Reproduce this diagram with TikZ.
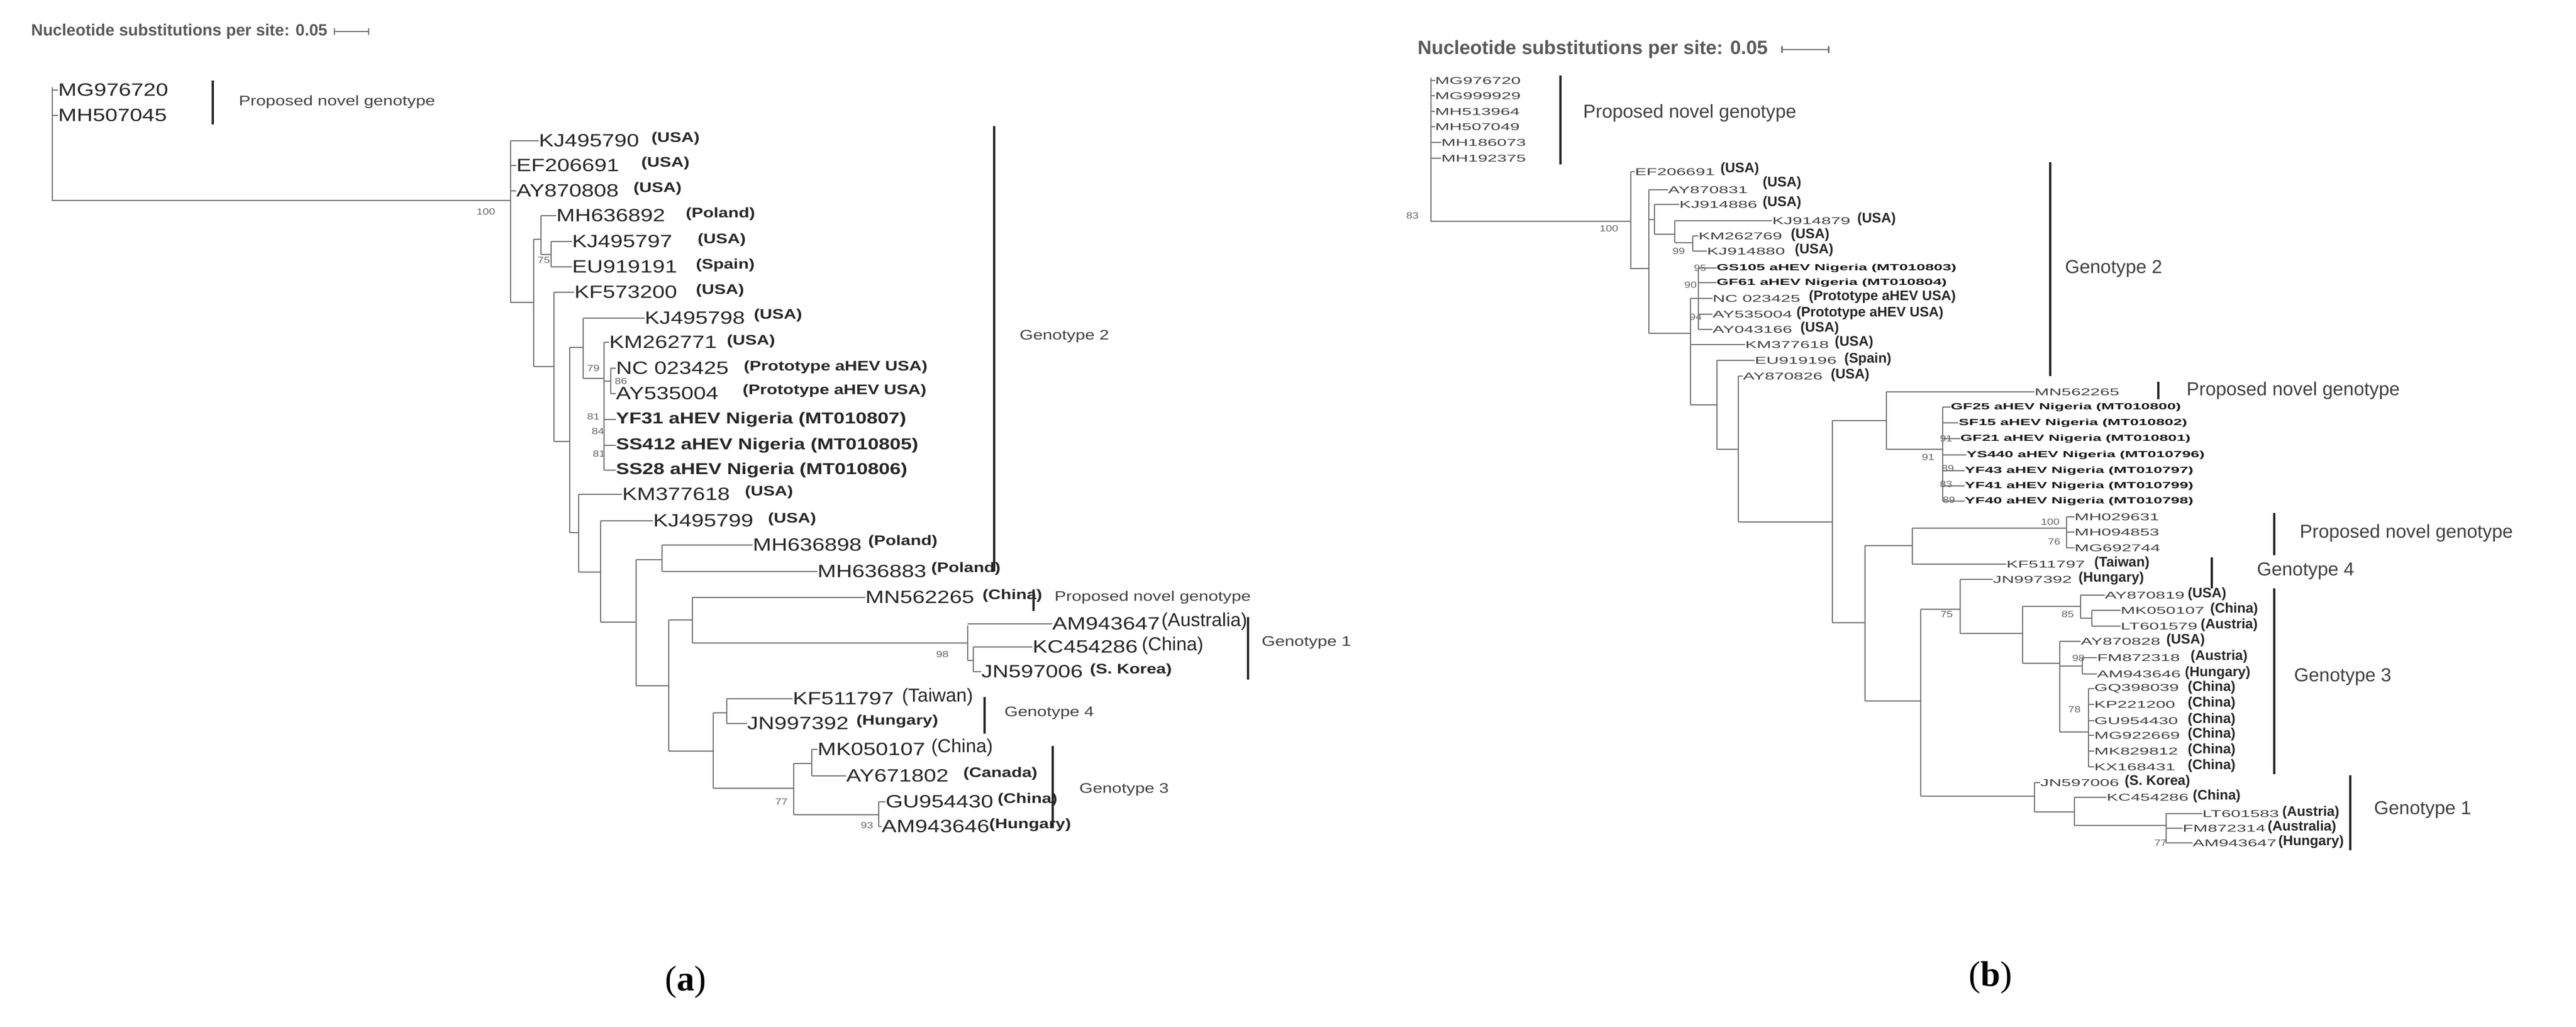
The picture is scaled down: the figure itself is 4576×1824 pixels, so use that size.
\documentclass[tikz,border=0pt]{standalone}
\usepackage{fontspec}
\setmainfont{Liberation Sans}
\newfontfamily\fa[FakeStretch=1.25]{Liberation Sans}
\newfontfamily\fb[FakeStretch=1.75]{Liberation Sans}
\newfontfamily\capf{Liberation Serif}
\newcommand\lf[6][lfa]{\node[#1] (#2) at (#4,#5) {#6}; \draw[br] (#3,#5) -- (#2.west);}
\newcommand\ct[5][cta]{\node[#1] (#2) at (#3,#4) {#5};}
\newcommand\bs[5][bsa]{\node[#1] (#2) at (#3,#4) {#5};}
\tikzset{
 br/.style={draw=black!55,line width=1.4pt},
 bar/.style={draw=black!85,line width=2pt},
 lfa/.style={anchor=west,inner sep=0pt,font=\fa\fontsize{18}{18}\selectfont,text=black!85},
 lfab/.style={lfa,font=\fa\fontsize{16}{16}\selectfont\bfseries},
 cta/.style={anchor=west,inner sep=0pt,font=\fa\fontsize{14}{14}\selectfont\bfseries,text=black!85},
 ctab/.style={cta,font=\fontsize{19}{19}\selectfont},
 bsa/.style={inner sep=0pt,font=\fa\fontsize{9}{9}\selectfont,text=black!60},
 lfb/.style={anchor=west,inner sep=0pt,font=\fb\fontsize{10}{10}\selectfont,text=black!75},
 lfbb/.style={lfb,font=\fb\fontsize{9}{9}\selectfont\bfseries,text=black!90},
 ctb/.style={anchor=west,inner sep=0pt,font=\fontsize{14}{14}\selectfont\bfseries,text=black!85},
 gen/.style={anchor=west,inner sep=0pt,font=\fa\fontsize{14}{14}\selectfont,text=black!75},
 genb/.style={anchor=west,inner sep=0pt,font=\fontsize{19}{19}\selectfont,text=black!75},
 ttl/.style={anchor=west,inner sep=0pt,font=\fontsize{16.5}{16.5}\selectfont\bfseries,text=black!65},
 ttlb/.style={ttl,font=\fontsize{19.5}{19.5}\selectfont\bfseries},
}
\begin{document}
\begin{tikzpicture}[x=0.02cm,y=-0.02cm]
\useasboundingbox (0,0) rectangle (4576,1824);
% ================= panel (a) =================
\node[ttl] (ta) at (55,56) {Nucleotide substitutions per site: 0.05};
\coordinate (sa1) at ([xshift=12*0.02cm]ta.east);
\coordinate (sa2) at ([xshift=73*0.02cm]ta.east);
\draw[br] (sa1) -- (sa2) ([yshift=6*0.02cm]sa1) -- ([yshift=-6*0.02cm]sa1) ([yshift=6*0.02cm]sa2) -- ([yshift=-6*0.02cm]sa2);
\draw[br] (93,155) -- (93,356) -- (907,356);
\lf{aMG}{93}{103}{160}{MG976720}
\lf{aMH}{93}{103}{205}{MH507045}
\draw[bar] (378,143) -- (378,221);
\node[gen] (apng) at (424,181) {Proposed novel genotype};
\bs{a100}{863}{376}{100}
\draw[br] (907,250) -- (907,537) -- (948,537);
\lf{a1}{907}{957}{250}{KJ495790}\ct{c1}{1157}{246}{(USA)}
\lf{a2}{907}{917}{294}{EF206691}\ct{c2}{1139}{290}{(USA)}
\lf{a3}{907}{917}{339}{AY870808}\ct{c3}{1125}{335}{(USA)}
\draw[br] (948,425) -- (948,651);
\draw[br] (948,425) -- (961,425) (961,383) -- (961,452) (961,452) -- (979,452) (979,429) -- (979,474);
\lf{a4}{961}{988}{383}{MH636892}\ct{c4}{1218}{380}{(Poland)}
\lf{a5}{979}{1016}{429}{KJ495797}\ct{c5}{1239}{426}{(USA)}
\lf{a6}{979}{1016}{474}{EU919191}\ct{c6}{1236}{471}{(Spain)}
\bs{a75}{966}{462}{75}
\draw[br] (948,651) -- (984,651) (984,519) -- (984,784) (984,784) -- (1012,784) (1012,617) -- (1012,946);
\lf{a7}{984}{1020}{519}{KF573200}\ct{c7}{1236}{516}{(USA)}
\draw[br] (1012,617) -- (1036,617) (1036,565) -- (1036,672) (1036,672) -- (1073,672) (1073,608) -- (1073,835) (1073,677) -- (1085,677) (1085,654) -- (1085,699);
\lf{a8}{1036}{1145}{565}{KJ495798}\ct{c8}{1339}{560}{(USA)}
\lf{a9}{1073}{1082}{608}{KM262771}\ct{c9}{1291}{606}{(USA)}
\lf{a10}{1085}{1094}{654}{NC 023425}\ct{c10}{1321}{652}{(Prototype aHEV USA)}
\lf{a11}{1085}{1094}{699}{AY535004}\ct{c11}{1319}{694}{(Prototype aHEV USA)}
\lf[lfab]{a12}{1073}{1094}{745}{YF31 aHEV Nigeria (MT010807)}
\lf[lfab]{a13}{1073}{1094}{791}{SS412 aHEV Nigeria (MT010805)}
\lf[lfab]{a14}{1073}{1094}{835}{SS28 aHEV Nigeria (MT010806)}
\bs{a79}{1054}{654}{79}\bs{a86}{1103}{677}{86}\bs{a81}{1054}{740}{81}\bs{a84}{1062}{766}{84}\bs{a81b}{1064}{806}{81}
\draw[br] (1012,946) -- (1028,946) (1028,878) -- (1028,1016) (1028,1016) -- (1067,1016) (1067,925) -- (1067,1105);
\lf{a15}{1028}{1105}{878}{KM377618}\ct{c15}{1323}{874}{(USA)}
\lf{a16}{1067}{1160}{925}{KJ495799}\ct{c16}{1364}{922}{(USA)}
\draw[br] (1067,1105) -- (1130,1105) (1130,994) -- (1130,1218) (1130,994) -- (1176,994) (1176,968) -- (1176,1015);
\lf{a17}{1176}{1337}{968}{MH636898}\ct{c17}{1542}{962}{(Poland)}
\lf{a18}{1176}{1452}{1015}{MH636883}\ct{c18}{1654}{1010}{(Poland)}
\draw[br] (1130,1218) -- (1188,1218) (1188,1101) -- (1188,1334) (1188,1101) -- (1230,1101) (1230,1061) -- (1230,1142) (1230,1142) -- (1719,1142) (1719,1111) -- (1719,1173) (1719,1173) -- (1729,1173) (1729,1149) -- (1729,1193);
\lf{a19}{1230}{1537}{1061}{MN562265}\ct{c19}{1745}{1058}{(China)}
\draw[bar] (1836,1047) -- (1836,1085);
\node[gen] (apng2) at (1873,1061) {Proposed novel genotype};
\lf{a20}{1719}{1869}{1108}{AM943647}\ct[ctab]{c20}{2063}{1104}{(Australia)}
\lf{a21}{1729}{1834}{1149}{KC454286}\ct[ctab]{c21}{2028}{1147}{(China)}
\lf{a22}{1729}{1743}{1193}{JN597006}\ct{c22}{1936}{1190}{(S. Korea)}
\bs{a98}{1674}{1162}{98}
\draw[bar] (2217,1096) -- (2217,1207);
\node[gen] (ag1) at (2241,1141) {Genotype 1};
\draw[br] (1188,1334) -- (1267,1334) (1267,1266) -- (1267,1400) (1267,1266) -- (1291,1266) (1291,1241) -- (1291,1285);
\lf{a23}{1291}{1408}{1241}{KF511797}\ct[ctab]{c23}{1602}{1238}{(Taiwan)}
\lf{a24}{1291}{1327}{1285}{JN997392}\ct{c24}{1521}{1281}{(Hungary)}
\draw[bar] (1749,1238) -- (1749,1303);
\node[gen] (ag4) at (1784,1266) {Genotype 4};
\draw[br] (1267,1400) -- (1410,1400) (1410,1356) -- (1410,1447) (1410,1356) -- (1442,1356) (1442,1331) -- (1442,1378) (1410,1447) -- (1561,1447) (1561,1424) -- (1561,1468);
\lf{a25}{1442}{1452}{1331}{MK050107}\ct[ctab]{c25}{1654}{1328}{(China)}
\lf{a26}{1442}{1503}{1378}{AY671802}\ct{c26}{1711}{1374}{(Canada)}
\lf{a27}{1561}{1573}{1424}{GU954430}\ct{c27}{1772}{1420}{(China)}
\lf{a28}{1561}{1566}{1468}{AM943646}\ct{c28}{1757}{1465}{(Hungary)}
\bs{a77}{1388}{1424}{77}\bs{a93}{1540}{1466}{93}
\draw[bar] (1870,1325) -- (1870,1471);
\node[gen] (ag3) at (1917,1402) {Genotype 3};
\draw[bar] (1766,224) -- (1766,1015);
\node[gen] (ag2) at (1811,597) {Genotype 2};
\node[font=\capf\fontsize{36}{36}\selectfont] (capa) at (1218,1744) {(\textbf{a})};
% ================= panel (b) =================
\node[ttlb] (tb) at (2518,88) {Nucleotide substitutions per site: 0.05};
\coordinate (sb1) at ([xshift=25*0.02cm]tb.east);
\coordinate (sb2) at ([xshift=108*0.02cm]tb.east);
\draw[br] (sb1) -- (sb2) ([yshift=6*0.02cm]sb1) -- ([yshift=-6*0.02cm]sb1) ([yshift=6*0.02cm]sb2) -- ([yshift=-6*0.02cm]sb2);
\draw[br] (2542,138) -- (2542,393) -- (2897,393);
\lf[lfb]{b1}{2542}{2549}{143}{MG976720}
\lf[lfb]{b2}{2542}{2549}{170}{MG999929}
\lf[lfb]{b3}{2542}{2549}{198}{MH513964}
\lf[lfb]{b4}{2542}{2549}{225}{MH507049}
\lf[lfb]{b5}{2542}{2560}{253}{MH186073}
\lf[lfb]{b6}{2542}{2560}{281}{MH192375}
\draw[bar] (2772,134) -- (2772,292);
\node[genb] (bpng) at (2812,201) {Proposed novel genotype};
\bs[bsa]{b83}{2509}{383}{83}\bs[bsa]{b100}{2858}{406}{100}
\draw[br] (2897,305) -- (2897,477) -- (2929,477) (2929,337) -- (2929,592);
\lf[lfb]{b7}{2897}{2904}{305}{EF206691}\ct[ctb]{d7}{3056}{300}{(USA)}
\lf[lfb]{b8}{2929}{2963}{337}{AY870831}\ct[ctb]{d8}{3131}{325}{(USA)}
\draw[br] (2929,390) -- (2939,390) (2939,363) -- (2939,416) (2939,416) -- (2975,416) (2975,392) -- (2975,431) (2975,431) -- (3007,431) (3007,419) -- (3007,446);
\lf[lfb]{b9}{2939}{2983}{363}{KJ914886}\ct[ctb]{d9}{3131}{360}{(USA)}
\lf[lfb]{b10}{2975}{3148}{392}{KJ914879}\ct[ctb]{d10}{3299}{389}{(USA)}
\lf[lfb]{b11}{3007}{3017}{419}{KM262769}\ct[ctb]{d11}{3181}{417}{(USA)}
\lf[lfb]{b12}{3007}{3032}{446}{KJ914880}\ct[ctb]{d12}{3188}{444}{(USA)}
\bs[bsa]{b99}{2982}{446}{99}
\draw[br] (2929,592) -- (3003,592) (3003,530) -- (3003,719) (3003,530) -- (3017,530) (3017,476) -- (3017,585);
\lf[lfbb]{b13}{3017}{3049}{476}{GS105 aHEV Nigeria (MT010803)}
\lf[lfbb]{b14}{3017}{3049}{502}{GF61 aHEV Nigeria (MT010804)}
\lf[lfb]{b15}{3017}{3042}{530}{NC 023425}\ct[ctb]{d15}{3213}{527}{(Prototype aHEV USA)}
\lf[lfb]{b16}{3017}{3042}{558}{AY535004}\ct[ctb]{d16}{3191}{556}{(Prototype aHEV USA)}
\lf[lfb]{b17}{3017}{3042}{585}{AY043166}\ct[ctb]{d17}{3198}{583}{(USA)}
\bs[bsa]{b95}{3020}{476}{95}\bs[bsa]{b90}{3003}{506}{90}\bs[bsa]{b94}{3012}{563}{94}
\lf[lfb]{b18}{3003}{3100}{612}{KM377618}\ct[ctb]{d18}{3259}{608}{(USA)}
\draw[br] (3003,719) -- (3050,719) (3050,640) -- (3050,798) (3050,798) -- (3088,798) (3088,668) -- (3088,927) (3088,927) -- (3255,927);
\lf[lfb]{b19}{3050}{3117}{640}{EU919196}\ct[ctb]{d19}{3276}{638}{(Spain)}
\lf[lfb]{b20}{3088}{3096}{668}{AY870826}\ct[ctb]{d20}{3252}{666}{(USA)}
\draw[bar] (3642,288) -- (3642,668);
\node[genb] (bg2) at (3668,477) {Genotype 2};
\draw[br] (3255,747) -- (3255,1106) (3255,747) -- (3351,747) (3351,696) -- (3351,798) (3351,798) -- (3451,798) (3451,723) -- (3451,890);
\lf[lfb]{b21}{3351}{3614}{696}{MN562265}
\draw[bar] (3834,678) -- (3834,709);
\node[genb] (bpng2) at (3884,694) {Proposed novel genotype};
\lf[lfbb]{b22}{3451}{3465}{723}{GF25 aHEV Nigeria (MT010800)}
\lf[lfbb]{b23}{3451}{3479}{751}{SF15 aHEV Nigeria (MT010802)}
\lf[lfbb]{b24}{3451}{3482}{779}{GF21 aHEV Nigeria (MT010801)}
\lf[lfbb]{b25}{3451}{3493}{808}{YS440 aHEV Nigeria (MT010796)}
\lf[lfbb]{b26}{3451}{3490}{836}{YF43 aHEV Nigeria (MT010797)}
\lf[lfbb]{b27}{3451}{3490}{863}{YF41 aHEV Nigeria (MT010799)}
\lf[lfbb]{b28}{3451}{3490}{890}{YF40 aHEV Nigeria (MT010798)}
\bs[bsa]{b91a}{3457}{779}{91}\bs[bsa]{b91}{3425}{812}{91}\bs[bsa]{b89}{3460}{832}{89}\bs[bsa]{b83b}{3457}{860}{83}\bs[bsa]{b89b}{3462}{888}{89}
\draw[br] (3255,1106) -- (3313,1106) (3313,969) -- (3313,1245) (3313,969) -- (3397,969) (3397,938) -- (3397,1002) (3397,938) -- (3671,938) (3671,918) -- (3671,973);
\lf[lfb]{b29}{3671}{3685}{918}{MH029631}
\lf[lfb]{b30}{3671}{3685}{945}{MH094853}
\lf[lfb]{b31}{3671}{3685}{973}{MG692744}
\bs[bsa]{b100b}{3642}{927}{100}\bs[bsa]{b76}{3649}{962}{76}
\draw[bar] (4040,911) -- (4040,986);
\node[genb] (bpng3) at (4085,947) {Proposed novel genotype};
\lf[lfb]{b32}{3397}{3564}{1002}{KF511797}\ct[ctb]{d32}{3720}{1000}{(Taiwan)}
\draw[bar] (3929,990) -- (3929,1045);
\node[genb] (bg4) at (4009,1014) {Genotype 4};
\draw[br] (3313,1245) -- (3412,1245) (3412,1082) -- (3412,1414) (3412,1082) -- (3482,1082) (3482,1029) -- (3482,1125) (3482,1125) -- (3593,1125) (3593,1077) -- (3593,1178) (3593,1077) -- (3696,1077) (3696,1057) -- (3696,1098) (3696,1098) -- (3716,1098) (3716,1084) -- (3716,1112);
\lf[lfb]{b33}{3482}{3540}{1029}{JN997392}\ct[ctb]{d33}{3692}{1027}{(Hungary)}
\bs[bsa]{b75}{3458}{1091}{75}
\lf[lfb]{b34}{3696}{3739}{1057}{AY870819}\ct[ctb]{d34}{3886}{1055}{(USA)}
\lf[lfb]{b35}{3716}{3767}{1084}{MK050107}\ct[ctb]{d35}{3926}{1082}{(China)}
\lf[lfb]{b36}{3716}{3767}{1112}{LT601579}\ct[ctb]{d36}{3909}{1110}{(Austria)}
\bs[bsa]{b85}{3673}{1091}{85}
\draw[br] (3593,1178) -- (3659,1178) (3659,1139) -- (3659,1300) (3659,1183) -- (3699,1183) (3699,1168) -- (3699,1197) (3659,1300) -- (3710,1300) (3710,1223) -- (3710,1362);
\lf[lfb]{b37}{3659}{3696}{1139}{AY870828}\ct[ctb]{d37}{3848}{1137}{(USA)}
\lf[lfb]{b38}{3699}{3725}{1168}{FM872318}\ct[ctb]{d38}{3891}{1166}{(Austria)}
\lf[lfb]{b39}{3699}{3725}{1197}{AM943646}\ct[ctb]{d39}{3881}{1195}{(Hungary)}
\bs[bsa]{b98}{3692}{1169}{98}
\lf[lfb]{b40}{3710}{3720}{1223}{GQ398039}\ct[ctb]{d40}{3886}{1221}{(China)}
\lf[lfb]{b41}{3710}{3720}{1251}{KP221200}\ct[ctb]{d41}{3886}{1249}{(China)}
\lf[lfb]{b42}{3710}{3720}{1280}{GU954430}\ct[ctb]{d42}{3886}{1278}{(China)}
\lf[lfb]{b43}{3710}{3720}{1306}{MG922669}\ct[ctb]{d43}{3886}{1304}{(China)}
\lf[lfb]{b44}{3710}{3720}{1334}{MK829812}\ct[ctb]{d44}{3886}{1332}{(China)}
\lf[lfb]{b45}{3710}{3720}{1362}{KX168431}\ct[ctb]{d45}{3886}{1360}{(China)}
\bs[bsa]{b78}{3685}{1260}{78}
\draw[bar] (4040,1045) -- (4040,1375);
\node[genb] (bg3) at (4075,1202) {Genotype 3};
\draw[br] (3412,1414) -- (3614,1414) (3614,1390) -- (3614,1442) (3614,1442) -- (3685,1442) (3685,1416) -- (3685,1466) (3685,1466) -- (3848,1466) (3848,1445) -- (3848,1497);
\lf[lfb]{b46}{3614}{3624}{1390}{JN597006}\ct[ctb]{d46}{3774}{1388}{(S. Korea)}
\lf[lfb]{b47}{3685}{3742}{1416}{KC454286}\ct[ctb]{d47}{3895}{1414}{(China)}
\lf[lfb]{b48}{3848}{3912}{1445}{LT601583}\ct[ctb]{d48}{4054}{1443}{(Austria)}
\lf[lfb]{b49}{3848}{3877}{1471}{FM872314}\ct[ctb]{d49}{4028}{1469}{(Australia)}
\lf[lfb]{b50}{3848}{3895}{1497}{AM943647}\ct[ctb]{d50}{4047}{1495}{(Hungary)}
\bs[bsa]{b77}{3838}{1497}{77}
\draw[bar] (4175,1377) -- (4175,1510);
\node[genb] (bg1) at (4217,1438) {Genotype 1};
\node[font=\capf\fontsize{36}{36}\selectfont] (capb) at (3536,1736) {(\textbf{b})};
\end{tikzpicture}
\end{document}
